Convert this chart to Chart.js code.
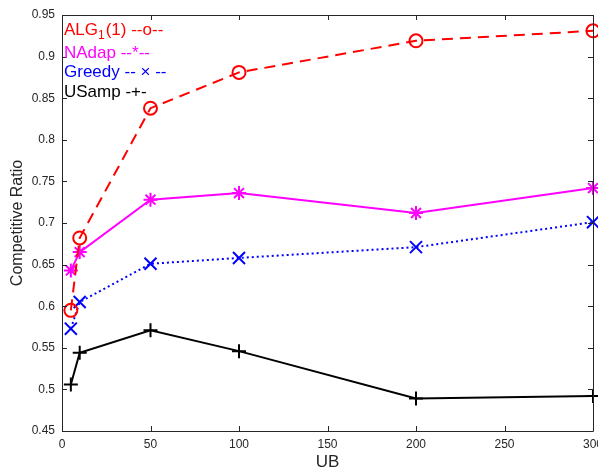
<!DOCTYPE html>
<html>
<head>
<meta charset="utf-8">
<script src="https://cdn.jsdelivr.net/npm/chart.js@4.4.1/dist/chart.umd.min.js"></script>
<style>
  html, body { margin: 0; padding: 0; background: #fff; }
  #wrap { width: 598px; height: 474px; }
</style>
</head>
<body>
<div id="wrap"><canvas id="myChart" width="598" height="474"></canvas></div>
<script>
// data
const ub = [5, 10, 50, 100, 200, 300];
const alg1 = [0.595, 0.682, 0.838, 0.881, 0.919, 0.931];
const nadap = [0.643, 0.665, 0.728, 0.736, 0.712, 0.742];
const greedy = [0.573, 0.605, 0.651, 0.658, 0.671, 0.701];
const usamp = [0.506, 0.544, 0.571, 0.546, 0.489, 0.492];
const xTicks = [0, 50, 100, 150, 200, 250, 300];
const yTicks = [0.45, 0.5, 0.55, 0.6, 0.65, 0.7, 0.75, 0.8, 0.85, 0.9, 0.95];

const axisColor = "#262626";
const font = "'Liberation Sans', Arial, Helvetica, sans-serif";

function pts(ys) {
  return ub.map((x, i) => ({ x: x, y: ys[i] }));
}

function series(label, ys, color, style, dash, r) {
  return {
    label: label,
    data: pts(ys),
    borderColor: color,
    backgroundColor: "rgba(0,0,0,0)",
    borderWidth: 2,
    borderDash: dash,
    pointStyle: style,
    pointRadius: r,
    pointBorderWidth: 2,
    pointBorderColor: color,
    pointBackgroundColor: "rgba(0,0,0,0)",
    tension: 0,
    clip: false,
  };
}

// box, inward ticks and text legend like the original figure
const boxPlugin = {
  id: "box",
  afterDatasetsDraw(chart) {
    const { ctx, chartArea: a, scales } = chart;
    ctx.save();
    ctx.strokeStyle = axisColor;
    ctx.lineWidth = 1;
    ctx.beginPath();
    ctx.rect(Math.round(a.left) + 0.5, Math.round(a.top) + 0.5, Math.round(a.right - a.left), Math.round(a.bottom - a.top));
    xTicks.forEach(v => {
      const px = Math.round(scales.x.getPixelForValue(v)) + 0.5;
      ctx.moveTo(px, a.bottom); ctx.lineTo(px, a.bottom - 5);
      ctx.moveTo(px, a.top); ctx.lineTo(px, a.top + 5);
    });
    yTicks.forEach(v => {
      const py = Math.round(scales.y.getPixelForValue(v)) + 0.5;
      ctx.moveTo(a.left, py); ctx.lineTo(a.left + 5, py);
      ctx.moveTo(a.right, py); ctx.lineTo(a.right - 5, py);
    });
    ctx.stroke();

    ctx.textBaseline = "middle";
    ctx.textAlign = "left";
    const x0 = a.left + 2;
    ctx.font = "17px " + font;
    ctx.fillStyle = "#ff0000";
    let x = x0;
    ctx.fillText("ALG", x, a.top + 15);
    x += ctx.measureText("ALG").width;
    ctx.font = "12px " + font;
    ctx.fillText("1", x, a.top + 21);
    x += ctx.measureText("1").width + 1;
    ctx.font = "17px " + font;
    ctx.fillText("(1) --o--", x, a.top + 15);
    ctx.fillStyle = "#ff00ff";
    ctx.fillText("NAdap --*--", x0, a.top + 38);
    ctx.fillStyle = "#0000ff";
    ctx.fillText("Greedy -- \u00d7 --", x0, a.top + 57);
    ctx.fillStyle = "#000000";
    ctx.fillText("USamp -+-", x0, a.top + 77);
    ctx.restore();
  },
};

const config = {
  type: "line",
  data: {
    datasets: [
      series("ALG1(1)", alg1, "#ff0000", "circle", [11, 7], 6.5),
      series("NAdap", nadap, "#ff00ff", "star", [], 7),
      series("Greedy", greedy, "#0000ff", "crossRot", [2, 3], 8.5),
      series("USamp", usamp, "#000000", "cross", [], 7),
    ],
  },
  options: {
    responsive: false,
    animation: false,
    layout: { autoPadding: false, padding: { top: 15, right: 5, left: 0, bottom: 0 } },
    plugins: { legend: { display: false }, tooltip: { enabled: false } },
    scales: {
      x: {
        type: "linear",
        min: 0,
        max: 300,
        afterBuildTicks: s => { s.ticks = xTicks.map(v => ({ value: v })); },
        afterFit: s => { s.height = 43; s.paddingLeft = 0; s.paddingRight = 0; },
        grid: { display: false, drawTicks: false },
        border: { display: false },
        ticks: { color: axisColor, font: { size: 12, family: font }, padding: 6, maxRotation: 0 },
        title: { display: true, text: "UB", color: axisColor, font: { size: 17, family: font }, padding: { top: 2, bottom: 1 } },
      },
      y: {
        type: "linear",
        min: 0.45,
        max: 0.95,
        afterBuildTicks: s => { s.ticks = yTicks.map(v => ({ value: v })); },
        afterFit: s => { s.width = 62; s.paddingTop = 0; s.paddingBottom = 0; },
        grid: { display: false, drawTicks: false },
        border: { display: false },
        ticks: {
          color: axisColor,
          font: { size: 12, family: font },
          padding: 7,
          callback: v => String(Number(v.toFixed(2))),
        },
        title: { display: true, text: "Competitive Ratio", color: axisColor, font: { size: 16, family: font }, padding: { top: 8, bottom: 4 } },
      },
    },
  },
  plugins: [boxPlugin],
};

var myChart = new Chart(document.getElementById("myChart"), config);
</script>
</body>
</html>
